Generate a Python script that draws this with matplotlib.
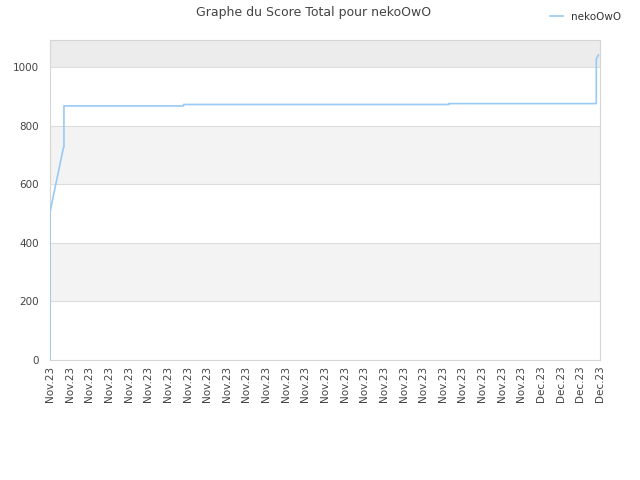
import numpy as np
import pandas as pd
import matplotlib
matplotlib.use('Agg')
import matplotlib.pyplot as plt
import matplotlib.dates as mdates

# Score history (repeated timestamps = vertical jumps)
timestamps = [
    "2023-11-01 00:00", "2023-11-01 00:00", "2023-11-01 20:00", "2023-11-01 20:30",
    "2023-11-01 20:30", "2023-11-09 04:28", "2023-11-09 04:28", "2023-11-25 10:20",
    "2023-11-25 10:20", "2023-12-04 11:20", "2023-12-04 11:20", "2023-12-04 14:30",
    "2023-12-04 16:48",
]
scores = [0, 505, 727, 727, 867, 867, 872, 872, 875, 875, 1027, 1041, 1041]

player = "nekoOwO"
y_ticks = [0, 200, 400, 600, 800, 1000]
band_edges = [0, 200, 400, 600, 800, 1000, 1092]
band_colors = ["white", "#f3f3f3", "white", "#f3f3f3", "white", "#ececec"]
n_xticks = 29

dates = pd.to_datetime(timestamps)

fig = plt.figure(figsize=(6.4, 4.8), dpi=100)
ax = fig.add_axes([50 / 640, 1 - 360 / 480, 550 / 640, 320 / 480])

# alternating horizontal bands
for lo, hi, c in zip(band_edges[:-1], band_edges[1:], band_colors):
    ax.axhspan(lo, hi, color=c, zorder=0, lw=0)
for y in y_ticks[1:]:
    ax.axhline(y, color="#dddddd", lw=0.8, zorder=1)

ax.plot(dates[:-1], scores[:-1], color="#99c9f5", lw=1.2, label=player, zorder=3)

x0, x1 = mdates.date2num(dates[0]), mdates.date2num(dates[-1])
ax.set_xlim(x0, x1)
ax.set_ylim(band_edges[0], band_edges[-1])
ax.set_yticks(y_ticks)
ax.set_xticks(np.linspace(x0, x1, n_xticks))
ax.xaxis.set_major_formatter(mdates.DateFormatter("%b.%y"))
ax.tick_params(axis="x", rotation=90, length=0, labelsize=7.5, colors="#444444", pad=4)
ax.tick_params(axis="y", length=0, labelsize=7.5, colors="#444444", pad=8)

for s in ax.spines.values():
    s.set_color("#d5d5d5")
    s.set_linewidth(0.8)

fig.suptitle("Graphe du Score Total pour nekoOwO", x=0.49, y=0.987,
             fontsize=9, color="#444444")
fig.legend(loc="upper right", bbox_to_anchor=(0.985, 0.995), frameon=False,
           fontsize=7.5, handlelength=1.2, handletextpad=0.8, labelcolor="#333333")

fig.savefig("out.png", dpi=100)
